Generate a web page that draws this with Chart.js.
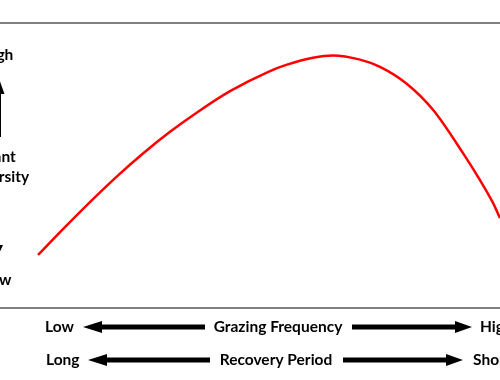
<!DOCTYPE html>
<html>
<head>
<meta charset="utf-8">
<script src="https://cdn.jsdelivr.net/npm/chart.js@4"></script>
<style>
  html, body { margin: 0; padding: 0; background: #ffffff; }
  #wrap { width: 500px; height: 380px; }
</style>
</head>
<body>
<div id="wrap"><canvas id="c" width="500" height="380"></canvas></div>
<script>
// Grazing frequency (0 = low, 100 = high) vs. plant diversity (0 = low, 100 = high)
const grazingFrequency = [7.6, 12.6, 18.6, 23.4, 28.6, 34, 39.4, 46, 54, 57.4, 62.6, 66.6, 72, 76, 81.4, 86.6, 92.6, 96, 98.6, 100];
const plantDiversity   = [32.9, 39.7, 47.6, 53.6, 59.6, 65.3, 70.4, 76.0, 81.3, 83.0, 84.8, 85.4, 84.3, 82.4, 77.9, 71.1, 59.7, 52.6, 46.6, 42.6];
const yAxisLabels = ["High", "Plant", "Diversity", "Low"];
const xRow1Labels = ["Low", "Grazing Frequency", "High"];
const xRow2Labels = ["Long", "Recovery Period", "Short"];

const points = grazingFrequency.map((x, i) => ({ x: x, y: plantDiversity[i] }));

function arrowH(ctx, x1, x2, y, dir, shaft, headLen, headHalf) {
  ctx.beginPath();
  if (dir < 0) {
    ctx.moveTo(x1, y);
    ctx.lineTo(x1 + headLen, y - headHalf);
    ctx.lineTo(x1 + headLen, y - shaft / 2);
    ctx.lineTo(x2, y - shaft / 2);
    ctx.lineTo(x2, y + shaft / 2);
    ctx.lineTo(x1 + headLen, y + shaft / 2);
    ctx.lineTo(x1 + headLen, y + headHalf);
  } else {
    ctx.moveTo(x2, y);
    ctx.lineTo(x2 - headLen, y - headHalf);
    ctx.lineTo(x2 - headLen, y - shaft / 2);
    ctx.lineTo(x1, y - shaft / 2);
    ctx.lineTo(x1, y + shaft / 2);
    ctx.lineTo(x2 - headLen, y + shaft / 2);
    ctx.lineTo(x2 - headLen, y + headHalf);
  }
  ctx.closePath();
  ctx.fill();
}

function arrowV(ctx, x, y1, y2, dir, shaft, headLen, headHalf) {
  ctx.beginPath();
  if (dir < 0) {
    ctx.moveTo(x, y1);
    ctx.lineTo(x + headHalf, y1 + headLen);
    ctx.lineTo(x + shaft / 2, y1 + headLen);
    ctx.lineTo(x + shaft / 2, y2);
    ctx.lineTo(x - shaft / 2, y2);
    ctx.lineTo(x - shaft / 2, y1 + headLen);
    ctx.lineTo(x - headHalf, y1 + headLen);
  } else {
    ctx.moveTo(x, y2);
    ctx.lineTo(x + headHalf, y2 - headLen);
    ctx.lineTo(x + shaft / 2, y2 - headLen);
    ctx.lineTo(x + shaft / 2, y1);
    ctx.lineTo(x - shaft / 2, y1);
    ctx.lineTo(x - shaft / 2, y2 - headLen);
    ctx.lineTo(x - headHalf, y2 - headLen);
  }
  ctx.closePath();
  ctx.fill();
}

const decorPlugin = {
  id: 'decor',
  beforeDatasetsDraw(chart) {
    const ctx = chart.ctx;
    ctx.save();
    ctx.strokeStyle = '#808080';
    ctx.lineWidth = 2;
    ctx.beginPath();
    ctx.moveTo(0, 23); ctx.lineTo(500, 23);
    ctx.moveTo(0, 308); ctx.lineTo(500, 308);
    ctx.stroke();
    ctx.restore();
  },
  afterDraw(chart) {
    const ctx = chart.ctx;
    ctx.save();
    ctx.fillStyle = '#000000';
    ctx.font = 'bold 15.5px Lato, "Open Sans", sans-serif';
    ctx.textBaseline = 'middle';

    // left (vertical) axis labels, cut off at the canvas edge
    ctx.textAlign = 'center';
    ctx.fillText(yAxisLabels[0], -3, 55);
    ctx.fillText(yAxisLabels[1], -2, 157);
    ctx.fillText(yAxisLabels[2], -2, 177);
    ctx.fillText(yAxisLabels[3], -3, 280);
    arrowV(ctx, -0.5, 80, 137, -1, 3, 14, 5);
    arrowV(ctx, -3, 195, 258, 1, 3, 13, 6);

    // bottom rows
    ctx.textAlign = 'left';
    ctx.fillText(xRow1Labels[0], 45, 327);
    ctx.fillText(xRow1Labels[2], 480, 327);
    ctx.fillText(xRow2Labels[0], 46, 360);
    ctx.fillText(xRow2Labels[2], 473, 360);
    ctx.textAlign = 'center';
    ctx.fillText(xRow1Labels[1], 278, 327);
    ctx.fillText(xRow2Labels[1], 276, 360);

    arrowH(ctx, 83, 205, 327, -1, 5, 19, 6);
    arrowH(ctx, 352, 472, 327, 1, 5, 17, 6);
    arrowH(ctx, 88, 210, 360, -1, 5, 19, 6);
    arrowH(ctx, 343, 463, 360, 1, 5, 17, 6);
    ctx.restore();
  }
};

new Chart(document.getElementById('c'), {
  type: 'line',
  data: {
    datasets: [{
      data: points,
      borderColor: '#ff0000',
      borderWidth: 2.5,
      pointRadius: 0,
      cubicInterpolationMode: 'monotone',
      fill: false
    }]
  },
  options: {
    responsive: false,
    animation: false,
    layout: { padding: 0 },
    plugins: { legend: { display: false }, tooltip: { enabled: false } },
    scales: {
      x: { type: 'linear', min: 0, max: 100, display: false },
      y: { type: 'linear', min: 0, max: 100, display: false }
    }
  },
  plugins: [decorPlugin]
});
</script>
</body>
</html>
